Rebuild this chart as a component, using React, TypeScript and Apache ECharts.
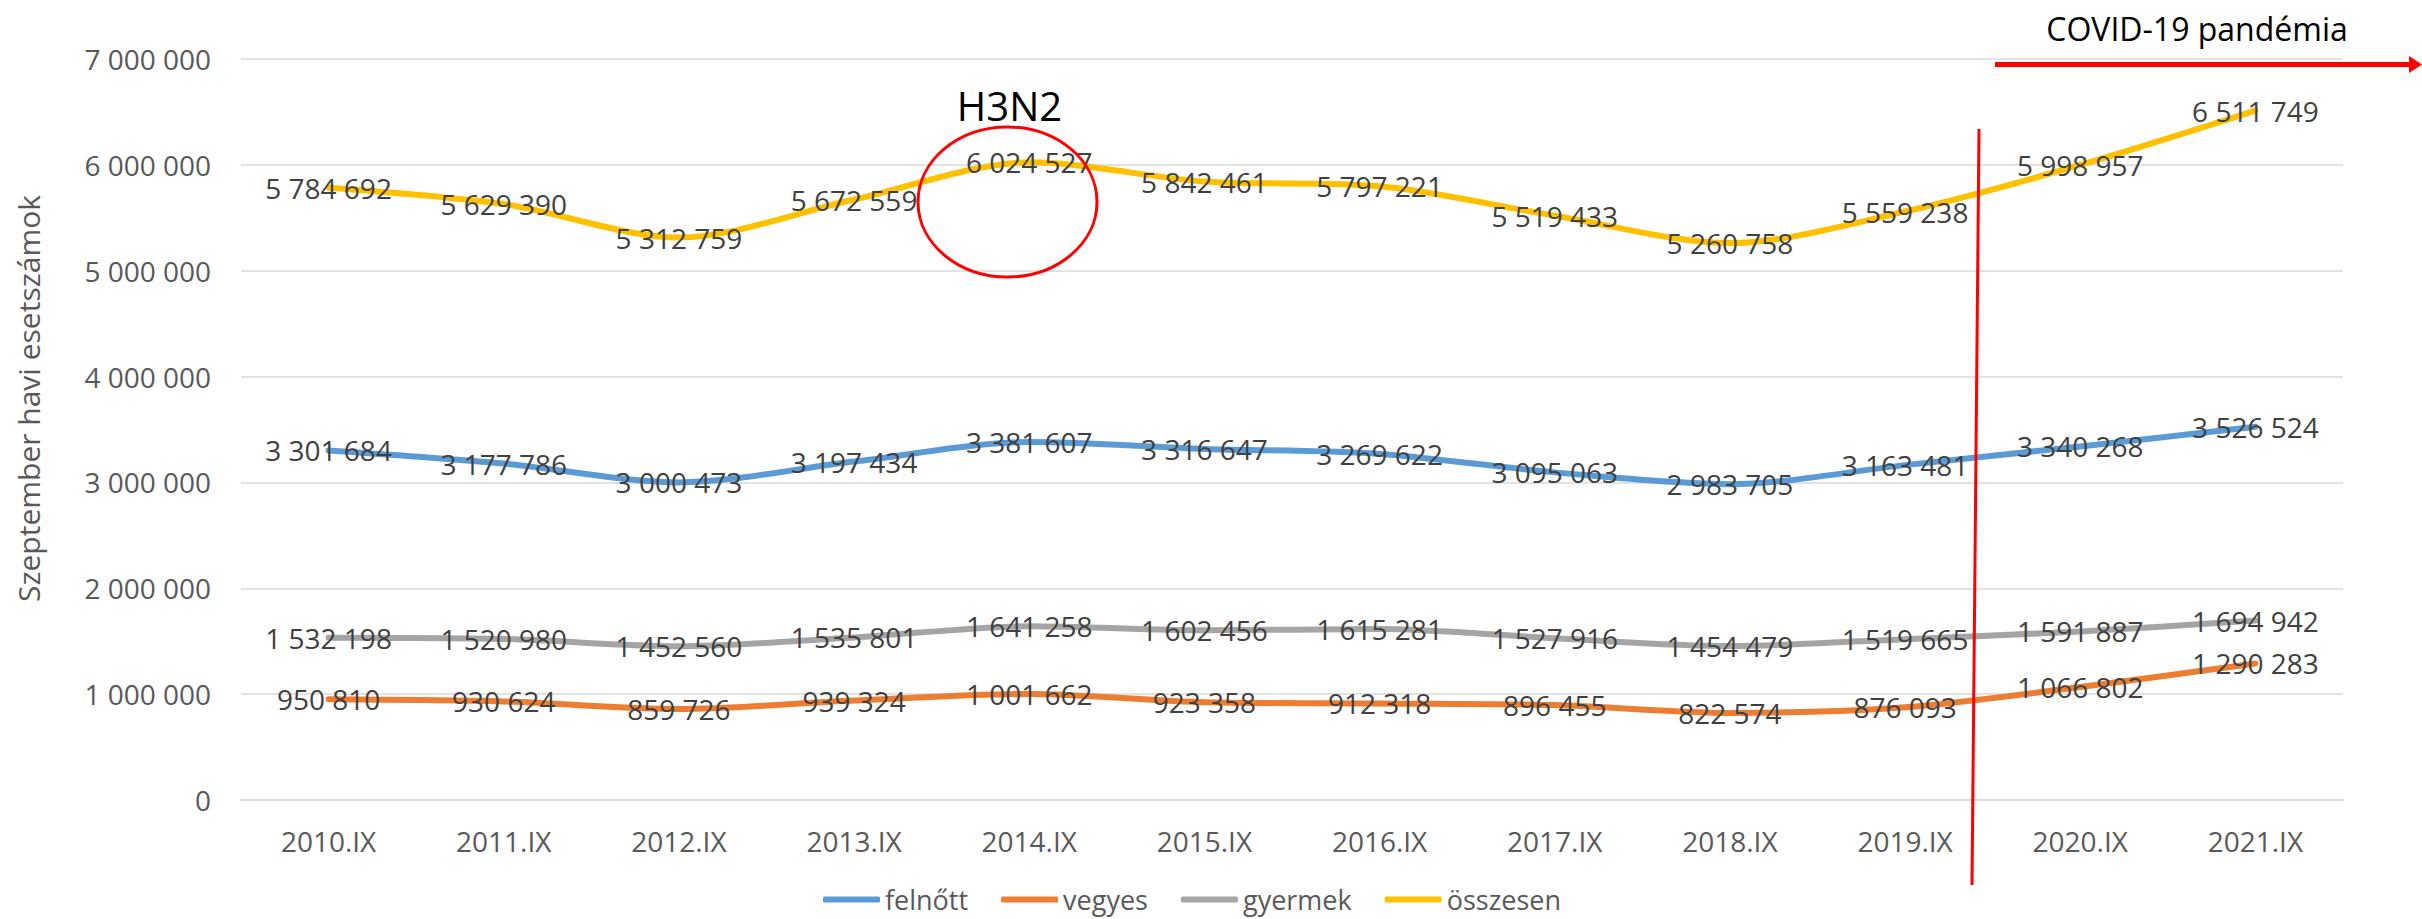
import React, { useEffect, useRef } from "react";
import * as echarts from "echarts";

const categories = ["2010.IX", "2011.IX", "2012.IX", "2013.IX", "2014.IX", "2015.IX", "2016.IX", "2017.IX", "2018.IX", "2019.IX", "2020.IX", "2021.IX"];
const felnott = [3301684, 3177786, 3000473, 3197434, 3381607, 3316647, 3269622, 3095063, 2983705, 3163481, 3340268, 3526524];
const vegyes = [950810, 930624, 859726, 939324, 1001662, 923358, 912318, 896455, 822574, 876093, 1066802, 1290283];
const gyermek = [1532198, 1520980, 1452560, 1535801, 1641258, 1602456, 1615281, 1527916, 1454479, 1519665, 1591887, 1694942];
const osszesen = [5784692, 5629390, 5312759, 5672559, 6024527, 5842461, 5797221, 5519433, 5260758, 5559238, 5998957, 6511749];
const seriesNames = ["felnőtt", "vegyes", "gyermek", "összesen"];
const seriesColors = ["#5B9BD5", "#ED7D31", "#A5A5A5", "#FFC000"];
const yAxisTitle = "Szeptember havi esetszámok";
const annotationH3N2 = "H3N2";
const annotationCovid = "COVID-19 pandémia";

const FONT = "'Open Sans', 'Noto Sans', sans-serif";

const fmt = (v: number) => String(v).replace(/\B(?=(\d{3})+(?!\d))/g, " ");

export default function App() {
  const ref = useRef<HTMLDivElement>(null);
  useEffect(() => {
    if (!ref.current) return;
    const chart = echarts.init(ref.current, null, { renderer: "svg" });
    const dataSets = [felnott, vegyes, gyermek, osszesen];
    const option: any = {
      animation: false,
      backgroundColor: "#ffffff",
      textStyle: { fontFamily: FONT },
      grid: { left: 241, right: 79, top: 59, bottom: 119, containLabel: false },
      legend: {
        left: 818,
        top: 881,
        padding: 5,
        icon: "roundRect",
        itemWidth: 57,
        itemHeight: 6,
        itemGap: 33,
        textStyle: { fontSize: 27, color: "#595959", fontFamily: FONT },
        data: seriesNames.map((n, i) => ({ name: n, itemStyle: { color: seriesColors[i] } })),
      },
      xAxis: {
        type: "category",
        data: categories,
        boundaryGap: true,
        axisLine: { show: true, lineStyle: { color: "#D9D9D9", width: 1.5 } },
        axisTick: { show: false },
        axisLabel: { fontSize: 28, color: "#595959", margin: 27, fontFamily: FONT },
      },
      yAxis: {
        type: "value",
        min: 0,
        max: 7000000,
        interval: 1000000,
        name: yAxisTitle,
        nameLocation: "middle",
        nameGap: 198,
        nameTextStyle: { fontSize: 30, color: "#595959", fontFamily: FONT, padding: [0, 0, 0, 62] },
        axisLine: { show: false },
        axisTick: { show: false },
        axisLabel: { fontSize: 28, color: "#595959", margin: 30, fontFamily: FONT, formatter: (v: number) => fmt(v) },
        splitLine: { lineStyle: { color: "#D9D9D9", width: 1.5 } },
      },
      series: seriesNames.map((n, i) => ({
        name: n,
        type: "line",
        data: dataSets[i],
        smooth: 0.3,
        symbol: "circle",
        symbolSize: 1,
        showSymbol: true,
        itemStyle: { color: seriesColors[i] },
        lineStyle: { color: seriesColors[i], width: 6, cap: "round", join: "round" },
        label: {
          show: true,
          position: "inside",
          fontSize: 28,
          color: "#404040",
          fontFamily: FONT,
          formatter: (p: any) => fmt(p.value),
        },
        z: 2 + i,
      })),
      graphic: [
        {
          type: "ellipse",
          z: 100,
          shape: { cx: 1007.5, cy: 202, rx: 89.5, ry: 75 },
          style: { fill: "none", stroke: "#FF0000", lineWidth: 3 },
        },
        {
          type: "text",
          z: 100,
          x: 1009.5,
          y: 105,
          style: { text: annotationH3N2, fontSize: 40, fontFamily: FONT, fill: "#000000", textAlign: "center", textVerticalAlign: "middle" },
        },
        {
          type: "line",
          z: 100,
          shape: { x1: 1979, y1: 129, x2: 1972, y2: 885 },
          style: { stroke: "#FF0000", lineWidth: 3 },
        },
        {
          type: "line",
          z: 100,
          shape: { x1: 1995, y1: 64.5, x2: 2412, y2: 64.5 },
          style: { stroke: "#FF0000", lineWidth: 5 },
        },
        {
          type: "polygon",
          z: 100,
          shape: { points: [[2409, 56], [2422, 64.5], [2409, 73]] },
          style: { fill: "#FF0000" },
        },
        {
          type: "text",
          z: 100,
          x: 2197,
          y: 28.5,
          style: { text: annotationCovid, fontSize: 32, fontFamily: FONT, fill: "#000000", textAlign: "center", textVerticalAlign: "middle" },
        },
      ],
    };
    chart.setOption(option);
    return () => chart.dispose();
  }, []);
  return <div ref={ref} style={{ position: "fixed", left: 0, top: 0, width: 2422, height: 919 }} />;
}
